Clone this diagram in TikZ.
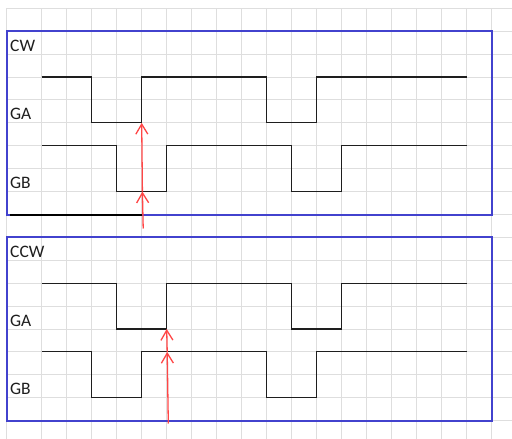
\documentclass[tikz,border=0pt]{standalone}
\usepackage{fontspec}
\setmainfont{Carlito}
\usetikzlibrary{arrows.meta}
\definecolor{gridc}{RGB}{222,222,222}
\definecolor{boxblue}{RGB}{66,66,206}
\definecolor{sig}{RGB}{30,30,30}
\definecolor{arr}{RGB}{255,70,70}
\tikzset{
  gridline/.style={draw=gridc,line width=1pt},
  frame/.style={draw=boxblue,line width=2pt},
  signal/.style={draw=sig,line width=1.1pt},
  lbl/.style={anchor=base west,inner sep=0pt,font=\fontsize{17.5pt}{20pt}\selectfont,text=sig},
  edgearrow/.style={draw=arr,line width=1.3pt,-{Straight Barb[length=10pt,width=12pt]}}
}
\begin{document}
\begin{tikzpicture}[x=1pt,y=-1pt]
\useasboundingbox (0,0) rectangle (512,439);
\fill[white] (0,0) rectangle (512,439);
% grid
\foreach \k in {0,...,19} {
  \draw[gridline] (6.7,{8.3+22.91*\k}) -- (512,{8.3+22.91*\k});
}
\draw[gridline] (6.7,8.3) -- (6.7,439);
\foreach \j in {1,...,20} {
  \draw[gridline] ({16.7+25*\j},8.3) -- ({16.7+25*\j},439);
}
% frames
\draw[frame] (6.7,31.2) rectangle (491.7,214.5);
\draw[frame] (6.7,237.4) rectangle (491.7,420.7);
\draw[draw=black,line width=2pt] (10,214.5) -- (141.7,214.5);
% labels
\node[lbl] (cw) at (10,51.5) {CW};
\node[lbl] (cwga) at (10,119.5) {GA};
\node[lbl] (cwgb) at (10,188) {GB};
\node[lbl] (ccw) at (10,257.5) {CCW};
\node[lbl] (ccwga) at (10,326) {GA};
\node[lbl] (ccwgb) at (10,394.5) {GB};
% CW signals
\draw[signal] (41.7,77.0) -- (91.7,77.0) -- (91.7,122.9) -- (141.7,122.9) -- (141.7,77.0)
  -- (266.7,77.0) -- (266.7,122.9) -- (316.7,122.9) -- (316.7,77.0) -- (466.7,77.0);
\draw[signal] (41.7,145.8) -- (116.7,145.8) -- (116.7,191.6) -- (166.7,191.6) -- (166.7,145.8)
  -- (291.7,145.8) -- (291.7,191.6) -- (341.7,191.6) -- (341.7,145.8) -- (466.7,145.8);
% CCW signals
\draw[signal] (41.7,283.2) -- (116.7,283.2) -- (116.7,329.0) -- (166.7,329.0) -- (166.7,283.2)
  -- (291.7,283.2) -- (291.7,329.0) -- (341.7,329.0) -- (341.7,283.2) -- (466.7,283.2);
\draw[signal] (41.7,351.9) -- (91.7,351.9) -- (91.7,397.8) -- (141.7,397.8) -- (141.7,351.9)
  -- (266.7,351.9) -- (266.7,397.8) -- (316.7,397.8) -- (316.7,351.9) -- (466.7,351.9);
% red arrows
\coordinate (a1) at (143.2,228.5);
\coordinate (a1m) at (142.4,191.6);
\coordinate (a1t) at (141.7,122.9);
\draw[edgearrow] (a1) -- (a1m);
\draw[edgearrow] (a1m) -- (a1t);
\coordinate (a2) at (168.3,423.5);
\coordinate (a2m) at (167.2,351.9);
\coordinate (a2t) at (166.7,329.0);
\draw[edgearrow] (a2) -- (a2m);
\draw[edgearrow] (a2m) -- (a2t);
\end{tikzpicture}
\end{document}
